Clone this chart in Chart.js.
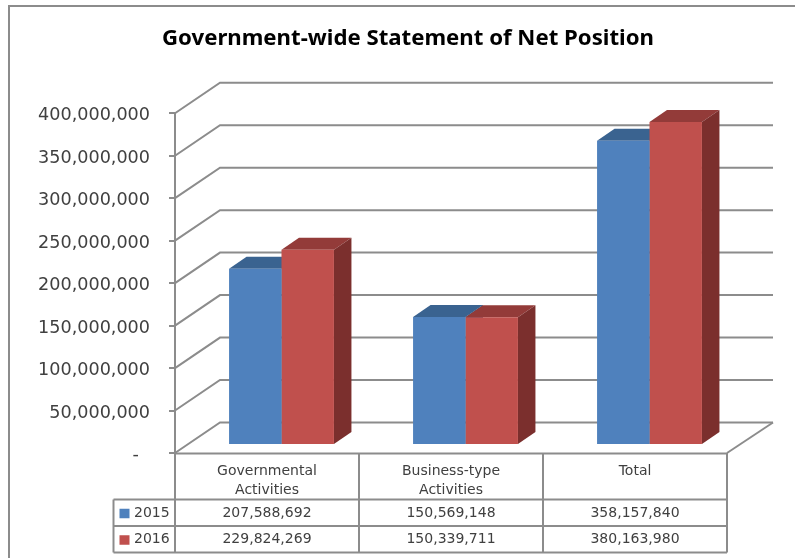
<!DOCTYPE html>
<html>
<head>
<meta charset="utf-8">
<style>html,body{margin:0;padding:0;background:#fff}canvas{display:block}</style>
<script src="https://cdn.jsdelivr.net/npm/chart.js@4"></script>
</head>
<body>
<div style="width:795px;height:558px"><canvas id="c" width="795" height="558"></canvas></div>
<script>
const categories = [["Governmental","Activities"],["Business-type","Activities"],["Total"]];
const series2015 = [207588692,150569148,358157840];
const series2016 = [229824269,150339711,380163980];
const seriesNames = ["2015","2016"];
const titleText = "Government-wide Statement of Net Position";
const yMax = 400000000;
const yStep = 50000000;

const LINE = '#8c8c8c';
const WALL = {dx:45, dy:-30.5};
const BAR = {dx:14.5, dy:-8, depthX:17.5, depthY:-12};
const FACES = [{front:'#4F81BD',top:'#3A6390',side:'#2F5078'},{front:'#C0504D',top:'#933B39',side:'#7B2F2D'}];
const fmt = v => v.toLocaleString('en-US');

function line(ctx,pts,w){
  ctx.beginPath();
  pts.forEach((p,i)=> i?ctx.lineTo(p[0],p[1]):ctx.moveTo(p[0],p[1]));
  ctx.lineWidth=w||2; ctx.strokeStyle=LINE; ctx.stroke();
}
function poly(ctx,pts,c){
  ctx.beginPath();
  pts.forEach((p,i)=> i?ctx.lineTo(p[0],p[1]):ctx.moveTo(p[0],p[1]));
  ctx.closePath(); ctx.fillStyle=c; ctx.fill();
}

const frame3d = {
  id:'frame3d',
  afterLayout(chart){
    // the value labels reach further left than the plot's layout box
    chart.scales.y.left = 20;
  },
  beforeDraw(chart){
    const ctx=chart.ctx;
    ctx.save();
    line(ctx,[[9,558],[9,6],[795,6]],2);
    ctx.restore();
  },
  beforeDatasetsDraw(chart){
    const ctx=chart.ctx, y=chart.scales.y, a=chart.chartArea;
    ctx.save();
    y.ticks.forEach(t=>{
      const py=y.getPixelForValue(t.value);
      line(ctx,[[a.left,py],[a.left+WALL.dx,py+WALL.dy],[a.right+WALL.dx+1,py+WALL.dy]]);
    });
    const b=y.getPixelForValue(0);
    line(ctx,[[a.right,b],[a.right+WALL.dx+1,b+WALL.dy]]);
    ctx.restore();
    ctx.save();
    ctx.translate(BAR.dx,BAR.dy);
    [0,1].forEach(i=>{
      const f=FACES[i];
      chart.getDatasetMeta(i).data.forEach(el=>{
        const p=el.getProps(['x','y','base','width'],true);
        const l=p.x-p.width/2, r=p.x+p.width/2;
        poly(ctx,[[l,p.y],[l+BAR.depthX,p.y+BAR.depthY],[r+BAR.depthX,p.y+BAR.depthY],[r,p.y]],f.top);
        poly(ctx,[[r,p.y],[r+BAR.depthX,p.y+BAR.depthY],[r+BAR.depthX,p.base+BAR.depthY],[r,p.base]],f.side);
      });
    });
  },
  afterDatasetsDraw(chart){
    chart.ctx.restore();
    const ctx=chart.ctx, a=chart.chartArea, x=chart.scales.x;
    const rows=[499.5,526,552.5], keyLeft=113.5;
    ctx.save();
    const w=(a.right-a.left)/categories.length;
    const cols=categories.map((_,i)=>a.left+w*i).concat([a.right]);
    cols.forEach((cx,i)=> line(ctx,[[cx,a.bottom],[cx,rows[2]]]));
    line(ctx,[[a.left,a.bottom+0.5],[a.right,a.bottom+0.5]]);
    rows.forEach(ry=> line(ctx,[[keyLeft,ry],[a.right,ry]]));
    line(ctx,[[keyLeft,rows[0]],[keyLeft,rows[2]]]);
    ctx.font='14px "DejaVu Sans"';
    ctx.textBaseline='middle';
    [series2015,series2016].forEach((vals,r)=>{
      const cy=(rows[r]+rows[r+1])/2+0.5;
      ctx.fillStyle=FACES[r].front;
      ctx.fillRect(119.5,cy-4.5,10,9.5);
      ctx.fillStyle='#404040';
      ctx.textAlign='left';
      ctx.fillText(seriesNames[r],134,cy);
      ctx.textAlign='center';
      vals.forEach((v,i)=> ctx.fillText(fmt(v),x.getPixelForValue(i),cy));
    });
    ctx.restore();
  }
};

new Chart(document.getElementById('c'),{
  type:'bar',
  data:{
    labels:categories,
    datasets:[
      {label:seriesNames[0],data:series2015,backgroundColor:FACES[0].front,categoryPercentage:0.57,barPercentage:1,clip:false},
      {label:seriesNames[1],data:series2016,backgroundColor:FACES[1].front,categoryPercentage:0.57,barPercentage:1,clip:false}
    ]
  },
  plugins:[frame3d],
  options:{
    responsive:false,animation:false,devicePixelRatio:1,
    layout:{padding:{left:89,right:68,top:25,bottom:0}},
    plugins:{
      legend:{display:false},
      tooltip:{enabled:false},
      title:{display:true,text:titleText,color:'#000',align:'center',
        font:{family:'"Noto Sans"',size:22.2,weight:'bold',lineHeight:1.2},
        padding:{top:0,bottom:61.6}}
    },
    scales:{
      x:{
        grid:{display:false},border:{display:false},
        ticks:{color:'#404040',autoSkip:false,maxRotation:0,minRotation:0,padding:1,
          font:{family:'"DejaVu Sans"',size:14,lineHeight:1.35}},
        afterFit(s){s.height=105;}
      },
      y:{
        min:0,max:yMax,
        grid:{drawOnChartArea:false,drawTicks:true,tickLength:6,color:LINE,lineWidth:2},
        border:{color:LINE,width:2},
        ticks:{stepSize:yStep,color:'#404040',padding:19,labelOffset:2.5,
          font:{family:'"DejaVu Sans"',size:17.6},
          callback:v=> v===0 ? '-  ' : fmt(v)},
        afterFit(s){s.width=86;}
      }
    }
  }
});
</script>
</body>
</html>
